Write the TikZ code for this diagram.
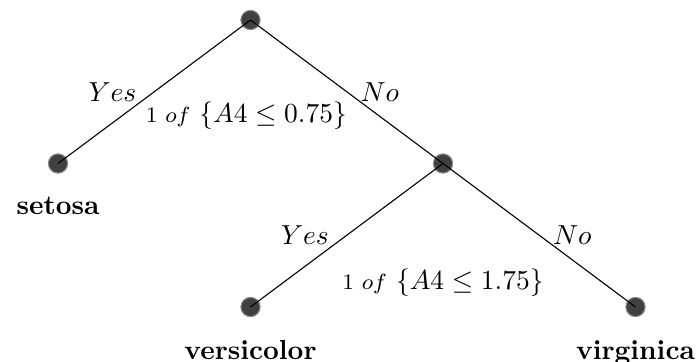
\documentclass[tikz,border=0pt]{standalone}
\usetikzlibrary{positioning}

\begin{document}
\begin{tikzpicture}[x=0.3636pt,y=0.3636pt,
		dot/.style={circle, fill=black!75, draw=black!45, minimum size=7pt, inner sep=0pt},
		branch/.style={black, line width=0.4pt},
		yeslbl/.style={midway, left=3pt},
		nolbl/.style={midway, right=1.5pt}]
			\useasboundingbox (0,0) rectangle (699,362);
			
			% Split nodes
			\node[dot] (root) at (250.5,342) {};
			\node[dot] (inner) at (443,198.5) {};
			
			% Leaves
			\node[dot] (setosa) at (58,198.5) {};
			\node[dot] (versicolor) at (250.5,55) {};
			\node[dot] (virginica) at (635.5,55) {};
			\node[below=5pt of setosa] (tsetosa) {\textbf{setosa}};
			\node[below=5pt of versicolor] (tversicolor) {\textbf{versicolor}};
			\node[below=5pt of virginica] (tvirginica) {\textbf{virginica}};
			
			% Split rules
			\node[below=22.5pt of root, xshift=-1.5pt] (rule1) {{\footnotesize$1\ of$} $\{A4 \leq 0.75\}$};
			\node[below=31pt of inner] (rule2) {{\footnotesize$1\ of$} $\{A4 \leq 1.75\}$};
			
			% Branches
			\draw[branch] (root.center) -- node[yeslbl] (yes1) {$Yes$} (setosa.center);
			\draw[branch] (root.center) -- node[nolbl] (no1) {$No$} (inner.center);
			\draw[branch] (inner.center) -- node[yeslbl] (yes2) {$Yes$} (versicolor.center);
			\draw[branch] (inner.center) -- node[nolbl] (no2) {$No$} (virginica.center);
		\end{tikzpicture}
\end{document}
